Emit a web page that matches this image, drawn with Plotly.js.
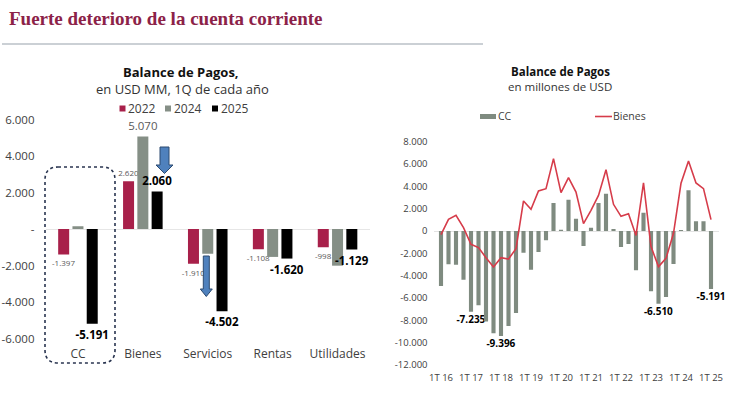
<!DOCTYPE html>
<html>
<head>
<meta charset="utf-8">
<script src="https://cdn.plot.ly/plotly-3.0.1.min.js"></script>
<style>html,body{margin:0;padding:0;background:#fff;}#chart{width:730px;height:399px;}</style>
</head>
<body>
<div id="chart"></div>
<script>
// ---------- Data: left chart (Balance de Pagos, 1Q de cada año) ----------
var categories = ['CC', 'Bienes', 'Servicios', 'Rentas', 'Utilidades'];
var values2022 = [-1397, 2620, -1910, -1108, -998];
var values2024 = [150, 5070, -1350, -1530, -2010];
var values2025 = [-5191, 2060, -4502, -1620, -1129];
var labeled2024 = [false, true, false, false, false];
var leftTickVals = [6000, 4000, 2000, 0, -2000, -4000, -6000];
var leftTickText = ['6.000', '4.000', '2.000', '-', '-2.000', '-4.000', '-6.000'];

// ---------- Data: right chart (Balance de Pagos trimestral) ----------
var quarters = ['1T16','2T16','3T16','4T16','1T17','2T17','3T17','4T17','1T18','2T18','3T18','4T18',
                '1T19','2T19','3T19','4T19','1T20','2T20','3T20','4T20','1T21','2T21','3T21','4T21',
                '1T22','2T22','3T22','4T22','1T23','2T23','3T23','4T23','1T24','2T24','3T24','4T24','1T25'];
var ccValues = [-4925, -2985, -3015, -4358, -7235, -6657, -8100, -9150, -9396, -8500, -7350, -1940,
                -3460, -1880, -835, 2507, 120, 2800, 1100, -1340, 300, 2500, 3340, 180,
                -1430, -1160, -3520, 1640, -5400, -6510, -5910, -2955, 100, 3640, 870, 870, -5191];
var bienesValues = [-330, 1045, 1400, 300, -1190, -1490, -2390, -3220, -2390, -2510, -1580, 2690,
                    1940, 3580, 3790, 6480, 3430, 4780, 3490, 660, 1850, 3190, 5490, 2390,
                    1310, 1550, -400, 4320, -1400, -3190, -2450, -210, 4270, 6270, 4300, 3790, 1015];
var labeledQuarters = ['1T17', '1T18', '2T23', '1T25'];
var rightTickVals = ['1T16','1T17','1T18','1T19','1T20','1T21','1T22','1T23','1T24','1T25'];
var rightTickText = ['1T 16','1T 17','1T 18','1T 19','1T 20','1T 21','1T 22','1T 23','1T 24','1T 25'];
var rightYTickVals = [8000, 6000, 4000, 2000, 0, -2000, -4000, -6000, -8000, -10000, -12000];
var rightYTickText = ['8.000','6.000','4.000','2.000','0','-2.000','-4.000','-6.000','-8.000','-10.000','-12.000'];

// ---------- helpers ----------
var W = 730, H = 399;
function PX(x) { return x / W; }
function PY(y) { return 1 - y / H; }
function fmt(v) {
  var s = Math.abs(v).toString().replace(/\B(?=(\d{3})+(?!\d))/g, '.');
  return (v < 0 ? '-' : '') + s;
}

var FONT = 'Open Sans, Noto Sans, sans-serif';
var RED = '#a8204a', GRAY = '#858f86', BLACK = '#000000';

var traces = [
  {type: 'bar', name: '2022', x: categories, y: values2022, xaxis: 'x', yaxis: 'y',
   marker: {color: RED}, text: values2022.map(fmt), textposition: 'outside',
   textfont: {family: FONT, size: 8, color: '#595959'}, constraintext: 'none', cliponaxis: false,
   showlegend: false, hoverinfo: 'skip'},
  {type: 'bar', name: '2024', x: categories, y: values2024, xaxis: 'x', yaxis: 'y',
   marker: {color: GRAY}, text: values2024.map(function (v, i) { return labeled2024[i] ? fmt(v) : ''; }),
   textposition: 'outside', textfont: {family: FONT, size: 11.5, color: '#595959'},
   constraintext: 'none', cliponaxis: false, showlegend: false, hoverinfo: 'skip'},
  {type: 'bar', name: '2025', x: categories, y: values2025, xaxis: 'x', yaxis: 'y',
   marker: {color: BLACK}, text: values2025.map(function (v) { return '<b>' + fmt(v) + '</b>'; }),
   textposition: 'outside', textfont: {family: FONT, size: 11.5, color: '#000000'},
   constraintext: 'none', cliponaxis: false, showlegend: false, hoverinfo: 'skip'},
  {type: 'bar', name: 'CC', x: quarters, y: ccValues, xaxis: 'x2', yaxis: 'y2', width: 0.55,
   marker: {color: '#7f8b80'},
   text: ccValues.map(function (v, i) { return labeledQuarters.indexOf(quarters[i]) >= 0 ? '<b>' + fmt(v) + '</b>' : ''; }),
   textposition: 'outside', textfont: {family: FONT, size: 10, color: '#000000'},
   constraintext: 'none', cliponaxis: false, showlegend: false, hoverinfo: 'skip'},
  {type: 'scatter', mode: 'lines', name: 'Bienes', x: quarters, y: bienesValues, xaxis: 'x2', yaxis: 'y2',
   line: {color: '#d63c4a', width: 1.6}, showlegend: false, hoverinfo: 'skip'}
];

function arrow(cx, top, shaftHalf, headHalf, headBase, tip) {
  return 'M ' + PX(cx - shaftHalf) + ' ' + PY(top) +
         ' L ' + PX(cx + shaftHalf) + ' ' + PY(top) +
         ' L ' + PX(cx + shaftHalf) + ' ' + PY(headBase) +
         ' L ' + PX(cx + headHalf) + ' ' + PY(headBase) +
         ' L ' + PX(cx) + ' ' + PY(tip) +
         ' L ' + PX(cx - headHalf) + ' ' + PY(headBase) +
         ' L ' + PX(cx - shaftHalf) + ' ' + PY(headBase) + ' Z';
}
function roundRect(x0, y0, x1, y1, r) {
  return 'M ' + PX(x0 + r) + ' ' + PY(y0) +
         ' L ' + PX(x1 - r) + ' ' + PY(y0) +
         ' Q ' + PX(x1) + ' ' + PY(y0) + ' ' + PX(x1) + ' ' + PY(y0 + r) +
         ' L ' + PX(x1) + ' ' + PY(y1 - r) +
         ' Q ' + PX(x1) + ' ' + PY(y1) + ' ' + PX(x1 - r) + ' ' + PY(y1) +
         ' L ' + PX(x0 + r) + ' ' + PY(y1) +
         ' Q ' + PX(x0) + ' ' + PY(y1) + ' ' + PX(x0) + ' ' + PY(y1 - r) +
         ' L ' + PX(x0) + ' ' + PY(y0 + r) +
         ' Q ' + PX(x0) + ' ' + PY(y0) + ' ' + PX(x0 + r) + ' ' + PY(y0) + ' Z';
}
function rectPx(x0, y0, x1, y1, color) {
  return {type: 'rect', xref: 'paper', yref: 'paper', x0: PX(x0), x1: PX(x1), y0: PY(y1), y1: PY(y0),
          fillcolor: color, line: {width: 0}, layer: 'above'};
}

var shapes = [
  // header rule
  {type: 'line', xref: 'paper', yref: 'paper', x0: PX(2), x1: PX(483), y0: PY(44), y1: PY(44),
   line: {color: '#cbd0d5', width: 2}},
  // dotted rounded box around CC
  {type: 'path', xref: 'paper', yref: 'paper', path: roundRect(45, 167, 115, 363, 13),
   line: {color: '#2a3550', width: 1.6, dash: 'dot'}, fillcolor: 'rgba(0,0,0,0)', layer: 'above'},
  // blue arrows
  {type: 'path', xref: 'paper', yref: 'paper', path: arrow(164.5, 147, 4.5, 8.5, 165, 173.5),
   fillcolor: '#4f81bd', line: {color: '#2c4a70', width: 1}, layer: 'above'},
  {type: 'path', xref: 'paper', yref: 'paper', path: arrow(206.3, 256, 3, 6, 289, 296.5),
   fillcolor: '#4f81bd', line: {color: '#2c4a70', width: 1}, layer: 'above'},
  // left legend swatches
  rectPx(119.5, 105.5, 125.5, 111.5, RED),
  rectPx(165, 105.5, 171, 111.5, GRAY),
  rectPx(212, 105.5, 218, 111.5, BLACK),
  // right legend swatches
  rectPx(480, 114, 496, 119, '#7f8b80'),
  {type: 'line', xref: 'paper', yref: 'paper', x0: PX(595), x1: PX(612), y0: PY(116.5), y1: PY(116.5),
   line: {color: '#d63c4a', width: 1.6}}
];

function ann(text, x, y, size, color, xanchor, family) {
  return {xref: 'paper', yref: 'paper', x: PX(x), y: PY(y), text: text, showarrow: false,
          xanchor: xanchor || 'center', yanchor: 'middle', borderpad: 0,
          font: {family: family || FONT, size: size, color: color || '#1a1a1a'}};
}

var annotations = [
  ann('<b>Fuerte deterioro de la cuenta corriente</b>', 8, 18, 19, '#8c2248', 'left', 'Liberation Serif, serif'),
  ann('<b>Balance de Pagos,</b>', 181, 72, 13, '#111111'),
  ann('en USD MM, 1Q de cada año', 182, 89, 13, '#333333'),
  ann('2022', 127, 108.5, 12, '#404040', 'left'),
  ann('2024', 172.5, 108.5, 12, '#404040', 'left'),
  ann('2025', 219.5, 108.5, 12, '#404040', 'left'),
  ann('<b>Balance de Pagos</b>', 560, 71.5, 11.5, '#111111'),
  ann('en millones de USD', 560, 86.5, 11.5, '#333333'),
  ann('CC', 497, 116.5, 10.5, '#404040', 'left'),
  ann('Bienes', 612, 116.5, 10.5, '#404040', 'left')
];

var layout = {
  width: W, height: H,
  margin: {l: 0, r: 0, t: 0, b: 0, pad: 0},
  paper_bgcolor: '#ffffff', plot_bgcolor: 'rgba(0,0,0,0)',
  font: {family: FONT, color: '#404040'},
  barmode: 'group', bargap: 0.34, bargroupgap: 0.23,
  showlegend: false,
  xaxis: {domain: [PX(45.5), PX(370)], range: [-0.5, 4.5], type: 'category', anchor: 'y',
          showgrid: false, zeroline: false, showline: false, ticks: '',
          tickfont: {family: FONT, size: 12, color: '#404040'}, ticklabelstandoff: 2, fixedrange: true},
  yaxis: {domain: [1 - 343 / H, 1 - 110 / H], range: [-6247, 6521], anchor: 'x',
          tickvals: leftTickVals, ticktext: leftTickText, showgrid: false,
          zeroline: true, zerolinecolor: '#e6e6e6', zerolinewidth: 1, showline: false, ticks: '',
          tickfont: {family: FONT, size: 11.5, color: '#404040'}, ticklabelstandoff: 10, fixedrange: true},
  xaxis2: {domain: [PX(433.5), PX(718.5)], range: [-1, 37], type: 'category', anchor: 'y2',
           tickvals: rightTickVals, ticktext: rightTickText, showgrid: false, zeroline: false,
           showline: false, ticks: '', tickangle: 0,
           tickfont: {family: FONT, size: 9.5, color: '#404040'}, ticklabelstandoff: 2, fixedrange: true},
  yaxis2: {domain: [1 - 368 / H, 1 - 135 / H], range: [-12265, 8594], anchor: 'x2',
           tickvals: rightYTickVals, ticktext: rightYTickText, showgrid: false,
           zeroline: true, zerolinecolor: '#e3e3e3', zerolinewidth: 1, showline: false, ticks: '',
           tickfont: {family: FONT, size: 9.5, color: '#404040'}, ticklabelstandoff: 5, fixedrange: true},
  shapes: shapes,
  annotations: annotations
};

Plotly.newPlot('chart', traces, layout, {displayModeBar: false, staticPlot: true});
</script>
</body>
</html>
